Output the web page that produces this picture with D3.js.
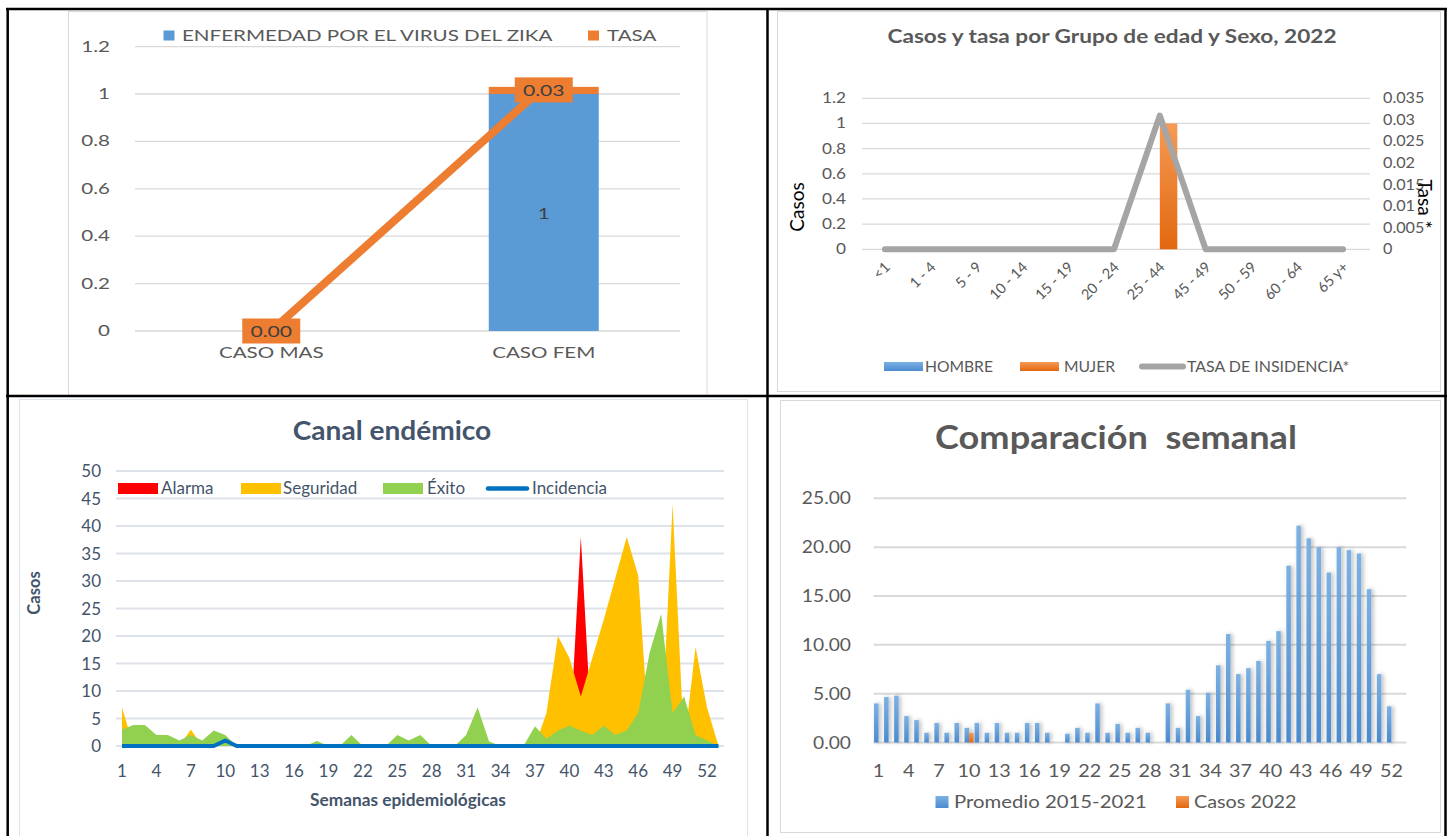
<!DOCTYPE html>
<html>
<head>
<meta charset="utf-8">
<script src="https://cdn.jsdelivr.net/npm/d3@7"></script>
<style>
  body { margin: 0; background: #fff; }
  svg { display: block; font-family: Lato, "Open Sans", sans-serif; }
</style>
</head>
<body>
<script>
// ---------- data ----------
const zikaCats = ["CASO MAS", "CASO FEM"];
const zikaCasos = [0, 1];
const zikaTasa = [0, 0.03];
const zikaTicks = [0, 0.2, 0.4, 0.6, 0.8, 1, 1.2];

const edadCats = ["<1", "1 - 4", "5 - 9", "10 - 14", "15 - 19", "20 - 24", "25 - 44", "45 - 49", "50 - 59", "60 - 64", "65 y+"];
const hombre = [0, 0, 0, 0, 0, 0, 0, 0, 0, 0, 0];
const mujer = [0, 0, 0, 0, 0, 0, 1, 0, 0, 0, 0];
const tasaEdad = [0, 0, 0, 0, 0, 0, 0.031, 0, 0, 0, 0];
const casosTicks = [0, 0.2, 0.4, 0.6, 0.8, 1, 1.2];
const tasaTicks = [0, 0.005, 0.01, 0.015, 0.02, 0.025, 0.03, 0.035];

const semanas = [1, 2, 3, 4, 5, 6, 7, 8, 9, 10, 11, 12, 13, 14, 15, 16, 17, 18, 19, 20,
  21, 22, 23, 24, 25, 26, 27, 28, 29, 30, 31, 32, 33, 34, 35, 36, 37, 38, 39, 40,
  41, 42, 43, 44, 45, 46, 47, 48, 49, 50, 51, 52, 53];
const semanaTicks = [1, 4, 7, 10, 13, 16, 19, 22, 25, 28, 31, 34, 37, 40, 43, 46, 49, 52];

const alarma = [0, 0, 0, 0, 0, 0, 0, 0, 0, 0, 0, 0, 0, 0, 0, 0, 0, 0, 0, 0,
  0, 0, 0, 0, 0, 0, 0, 0, 0, 0, 0, 0, 0, 0, 0, 0, 0, 0, 0, 0,
  38, 0, 0, 0, 0, 0, 0, 0, 0, 0, 0, 0, 0];
const seguridad = [7, 0, 0, 0, 0, 0, 3, 0, 0, 0, 0, 0, 0, 0, 0, 0, 0, 0, 0, 0,
  0, 0, 0, 0, 0, 0, 0, 0, 0, 0, 0, 0, 0, 0, 0, 0, 0, 6, 20, 16,
  9, 16, 23, 30.5, 38, 31, 0, 0, 44, 0, 18, 7, 0];
const exito = [3, 3.8, 3.8, 2, 2, 1, 2, 1, 2.8, 2, 0, 0, 0, 0, 0, 0, 0, 0.9, 0, 0,
  2, 0, 0, 0, 2, 1, 2, 0, 0, 0, 2, 7, 0.8, 0, 0, 0, 3.6, 1.3, 2.8, 3.7,
  2.8, 2, 3.7, 2, 2.8, 6, 17, 24, 6, 9, 2, 1, 0];
const incidencia = [0, 0, 0, 0, 0, 0, 0, 0, 0, 1, 0, 0, 0, 0, 0, 0, 0, 0, 0, 0,
  0, 0, 0, 0, 0, 0, 0, 0, 0, 0, 0, 0, 0, 0, 0, 0, 0, 0, 0, 0,
  0, 0, 0, 0, 0, 0, 0, 0, 0, 0, 0, 0, 0];
const canalTicks = [0, 5, 10, 15, 20, 25, 30, 35, 40, 45, 50];

const promedio = [4.0, 4.65, 4.8, 2.7, 2.3, 1.0, 2.0, 1.0, 2.0, 1.5, 2.0, 1.0, 2.0, 1.0, 1.0, 2.0, 2.0, 1.0, 0, 0.9,
  1.5, 1.0, 4.0, 1.0, 1.9, 1.0, 1.5, 1.0, 0, 4.0, 1.5, 5.4, 2.7, 5.1, 7.9, 11.1, 7.0, 7.6, 8.35, 10.4,
  11.4, 18.1, 22.2, 20.9, 20.0, 17.4, 20.0, 19.7, 19.35, 15.7, 7.0, 3.7, 0];
const casos2022 = [0, 0, 0, 0, 0, 0, 0, 0, 0, 1, 0, 0, 0, 0, 0, 0, 0, 0, 0, 0,
  0, 0, 0, 0, 0, 0, 0, 0, 0, 0, 0, 0, 0, 0, 0, 0, 0, 0, 0, 0,
  0, 0, 0, 0, 0, 0, 0, 0, 0, 0, 0, 0, 0];
const compTicks = [0, 5, 10, 15, 20, 25];

// ---------- svg ----------
const width = 1447, height = 836;
const svg = d3.select("body").append("svg")
  .attr("width", width)
  .attr("height", height);

const defs = svg.append("defs");
function vgrad(id, top, bottom) {
  const g = defs.append("linearGradient").attr("id", id)
    .attr("x1", 0).attr("y1", 0).attr("x2", 0).attr("y2", 1);
  g.append("stop").attr("offset", "0%").attr("stop-color", top);
  g.append("stop").attr("offset", "100%").attr("stop-color", bottom);
}
vgrad("gBlue", "#7DB1E3", "#4A8BCF");
vgrad("gOrange", "#F59A55", "#E2680F");
defs.append("filter").attr("id", "shadow")
  .attr("x", "-50%").attr("y", "-10%").attr("width", "250%").attr("height", "120%")
  .append("feDropShadow")
  .attr("dx", 2).attr("dy", 0).attr("stdDeviation", 2)
  .attr("flood-color", "#000").attr("flood-opacity", 0.28);

const grey = "#595959";

// text with a horizontal stretch (the source screenshot is a bit widened)
function label(g, x, y, str, o) {
  return g.append("text")
    .attr("transform", `translate(${x},${y}) scale(${o.k || 1},1)`)
    .attr("text-anchor", o.anchor || "start")
    .attr("font-size", o.size)
    .attr("font-weight", o.weight || "normal")
    .attr("fill", o.fill || grey)
    .style("white-space", "pre")
    .text(str);
}

// ================= panel 1 : zika por sexo =================
const p1 = svg.append("g");
p1.append("rect").attr("x", 68.5).attr("y", 11.5).attr("width", 638.5).attr("height", 384)
  .attr("fill", "none").attr("stroke", "#D9D9D9");

const x1 = d3.scaleBand().domain(zikaCats).range([135, 680]);
const y1 = d3.scaleLinear().domain([0, 1.2]).range([331, 46.6]);
const k1 = 1.37;

p1.selectAll(".grid").data(zikaTicks).enter().append("line")
  .attr("x1", 135).attr("x2", 680)
  .attr("y1", d => y1(d)).attr("y2", d => y1(d))
  .attr("stroke", "#D9D9D9").attr("stroke-width", 1.3);
zikaTicks.forEach(t => label(p1, 110, y1(t) + 5, t, { size: 15, k: k1, anchor: "end" }));

const bw1 = 110;
p1.selectAll(".bar").data(zikaCats).enter().append("rect")
  .attr("x", d => x1(d) + x1.bandwidth() / 2 - bw1 / 2)
  .attr("width", bw1)
  .attr("y", (d, i) => y1(zikaCasos[i]))
  .attr("height", (d, i) => y1(0) - y1(zikaCasos[i]))
  .attr("fill", "#5B9BD5");
p1.selectAll(".cap").data(zikaCats).enter().append("rect")
  .attr("x", d => x1(d) + x1.bandwidth() / 2 - bw1 / 2)
  .attr("width", bw1)
  .attr("y", (d, i) => y1(zikaCasos[i] + zikaTasa[i]))
  .attr("height", (d, i) => zikaCasos[i] > 0 ? y1(zikaCasos[i]) - y1(zikaCasos[i] + zikaTasa[i]) : 0)
  .attr("fill", "#ED7D31");

const line1 = d3.line()
  .x((d, i) => x1(zikaCats[i]) + x1.bandwidth() / 2)
  .y((d, i) => y1(zikaCasos[i] + zikaTasa[i]));
p1.append("path").datum(zikaTasa).attr("d", line1)
  .attr("fill", "none").attr("stroke", "#ED7D31").attr("stroke-width", 8);

zikaCats.forEach((c, i) => {
  const cx = x1(c) + x1.bandwidth() / 2;
  const cy = y1(zikaCasos[i] + zikaTasa[i]) + (i ? 3 : 0);
  p1.append("rect").attr("x", cx - 29).attr("y", cy - 12.5)
    .attr("width", 58).attr("height", 25).attr("fill", "#ED7D31");
  label(p1, cx, cy + 6, d3.format(".2f")(zikaTasa[i]), { size: 16, k: 1.32, anchor: "middle", fill: "#404040" });
  if (zikaCasos[i] > 0) {
    label(p1, cx, (y1(0) + y1(zikaCasos[i])) / 2 + 6, zikaCasos[i], { size: 15, k: k1, anchor: "middle", fill: "#404040" });
  }
  label(p1, cx, 358, c, { size: 15, k: k1, anchor: "middle" });
});

p1.append("rect").attr("x", 163.5).attr("y", 30.5).attr("width", 11).attr("height", 10).attr("fill", "#5B9BD5");
label(p1, 182, 40.5, "ENFERMEDAD POR EL VIRUS DEL ZIKA", { size: 15, k: k1 });
p1.append("rect").attr("x", 588).attr("y", 30.5).attr("width", 11).attr("height", 10).attr("fill", "#ED7D31");
label(p1, 607, 40.5, "TASA", { size: 15, k: k1 });

// ================= panel 2 : grupo de edad =================
const p2 = svg.append("g");
const k2 = 1.08;
p2.append("rect").attr("x", 777.5).attr("y", 11.5).attr("width", 663).attr("height", 380)
  .attr("fill", "none").attr("stroke", "#D9D9D9");
label(p2, 1112, 43, "Casos y tasa por Grupo de edad y Sexo, 2022", { size: 19.5, k: 1.16, anchor: "middle", weight: "bold" });

const x2 = d3.scaleBand().domain(edadCats).range([862, 1366]);
const yL = d3.scaleLinear().domain([0, 1.2]).range([249.3, 98.3]);
const yR = d3.scaleLinear().domain([0, 0.035]).range([249.3, 98.3]);

p2.selectAll(".grid").data(casosTicks).enter().append("line")
  .attr("x1", 862).attr("x2", 1370)
  .attr("y1", d => yL(d)).attr("y2", d => yL(d))
  .attr("stroke", "#D9D9D9").attr("stroke-width", 1.3);
casosTicks.forEach(t => label(p2, 846, yL(t) + 5, t, { size: 15, k: 1.15, anchor: "end" }));
tasaTicks.forEach(t => label(p2, 1383, yR(t) + 5, t, { size: 15, k: k2 }));

const bw2 = 17.5;
p2.selectAll(".hb").data(edadCats).enter().append("rect")
  .attr("x", d => x2(d) + x2.bandwidth() / 2 - bw2)
  .attr("width", bw2)
  .attr("y", (d, i) => yL(hombre[i]))
  .attr("height", (d, i) => yL(0) - yL(hombre[i]))
  .attr("fill", "url(#gBlue)");
p2.selectAll(".mb").data(edadCats).enter().append("rect")
  .attr("x", d => x2(d) + x2.bandwidth() / 2)
  .attr("width", bw2)
  .attr("y", (d, i) => yL(mujer[i]))
  .attr("height", (d, i) => yL(0) - yL(mujer[i]))
  .attr("fill", "url(#gOrange)");

const line2 = d3.line()
  .x((d, i) => x2(edadCats[i]) + x2.bandwidth() / 2)
  .y(d => yR(d));
p2.append("path").datum(tasaEdad).attr("d", line2)
  .attr("fill", "none").attr("stroke", "#A5A5A5").attr("stroke-width", 6)
  .attr("stroke-linejoin", "round").attr("stroke-linecap", "round");

p2.selectAll(".xlab").data(edadCats).enter().append("text")
  .attr("transform", d => `translate(${x2(d) + x2.bandwidth() / 2 + 6},${268}) rotate(-45)`)
  .attr("text-anchor", "end").attr("font-size", 14.5).attr("fill", grey)
  .text(d => d);

p2.append("text").attr("transform", "translate(804,207) rotate(-90)")
  .attr("text-anchor", "middle").attr("font-size", 19).attr("fill", "#000").text("Casos");
p2.append("text").attr("transform", "translate(1418,204) rotate(90)")
  .attr("text-anchor", "middle").attr("font-size", 19).attr("fill", "#000").text("Tasa *");

p2.append("rect").attr("x", 884).attr("y", 362).attr("width", 39).attr("height", 9).attr("fill", "url(#gBlue)");
label(p2, 925, 371.5, "HOMBRE", { size: 14.5, k: k2 });
p2.append("rect").attr("x", 1020).attr("y", 362).attr("width", 39).attr("height", 9).attr("fill", "url(#gOrange)");
label(p2, 1064, 371.5, "MUJER", { size: 14.5, k: k2 });
p2.append("line").attr("x1", 1142).attr("x2", 1183).attr("y1", 366.5).attr("y2", 366.5)
  .attr("stroke", "#A5A5A5").attr("stroke-width", 6).attr("stroke-linecap", "round");
label(p2, 1187, 371.5, "TASA DE INSIDENCIA*", { size: 14.5, k: 1.1 });

// ================= panel 3 : canal endemico =================
const p3 = svg.append("g");
const ink = "#44546A";
p3.append("rect").attr("x", 19.5).attr("y", 399.5).attr("width", 728).attr("height", 450)
  .attr("fill", "none").attr("stroke", "#DCE3EA");
label(p3, 392, 440, "Canal endémico", { size: 27, k: 1.04, anchor: "middle", weight: "bold", fill: ink });

const xC = d3.scalePoint().domain(semanas).range([122, 718.5]);
const yC = d3.scaleLinear().domain([0, 50]).range([746, 471]);

p3.selectAll(".grid").data(canalTicks).enter().append("line")
  .attr("x1", 116).attr("x2", 724)
  .attr("y1", d => yC(d)).attr("y2", d => yC(d))
  .attr("stroke", "#DDE2E8").attr("stroke-width", 1.8);
canalTicks.forEach(t => label(p3, 101, yC(t) + 6, t, { size: 17, anchor: "end", fill: ink }));

const areaC = d3.area()
  .x((d, i) => xC(semanas[i]))
  .y0(yC(0))
  .y1(d => yC(d));
p3.append("path").datum(alarma).attr("d", areaC).attr("fill", "#FF0000");
p3.append("path").datum(seguridad).attr("d", areaC).attr("fill", "#FFC000");
p3.append("path").datum(exito).attr("d", areaC).attr("fill", "#92D050");
const lineC = d3.line().x((d, i) => xC(semanas[i])).y(d => yC(d));
p3.append("path").datum(incidencia).attr("d", lineC)
  .attr("fill", "none").attr("stroke", "#0070C0").attr("stroke-width", 4)
  .attr("stroke-linejoin", "round");

semanaTicks.forEach(t => label(p3, xC(t), 777, t, { size: 17, anchor: "middle", fill: ink }));

p3.append("text").attr("transform", "translate(40,593) rotate(-90)")
  .attr("text-anchor", "middle").attr("font-size", 16.5).attr("font-weight", "bold").attr("fill", ink)
  .text("Casos");
label(p3, 408, 806, "Semanas epidemiológicas", { size: 17.3, anchor: "middle", weight: "bold", fill: ink });

const legC = [
  { name: "Alarma", color: "#FF0000", sx: 118, tx: 161 },
  { name: "Seguridad", color: "#FFC000", sx: 241, tx: 283 },
  { name: "Éxito", color: "#92D050", sx: 383, tx: 427 }
];
p3.selectAll(".legr").data(legC).enter().append("rect")
  .attr("x", d => d.sx).attr("y", 483).attr("width", 40).attr("height", 11)
  .attr("fill", d => d.color);
legC.forEach(d => label(p3, d.tx, 494, d.name, { size: 17, fill: ink }));
p3.append("line").attr("x1", 488).attr("x2", 527).attr("y1", 488.5).attr("y2", 488.5)
  .attr("stroke", "#0070C0").attr("stroke-width", 4.5).attr("stroke-linecap", "round");
label(p3, 532, 494, "Incidencia", { size: 17, fill: ink });

// ================= panel 4 : comparacion semanal =================
const p4 = svg.append("g");
const k4 = 1.1;
p4.append("rect").attr("x", 780.5).attr("y", 400.5).attr("width", 660).attr("height", 432)
  .attr("fill", "none").attr("stroke", "#D9D9D9");
label(p4, 1116, 449, "Comparación  semanal", { size: 32, k: 1.13, anchor: "middle", weight: "bold" });

const xP = d3.scaleBand().domain(semanas).range([873.5, 1406.5]);
const yP = d3.scaleLinear().domain([0, 25]).range([742.5, 498.3]);

p4.selectAll(".grid").data(compTicks).enter().append("line")
  .attr("x1", 873.5).attr("x2", 1406.5)
  .attr("y1", d => yP(d)).attr("y2", d => yP(d))
  .attr("stroke", "#D9D9D9").attr("stroke-width", 2);
compTicks.forEach(t => label(p4, 851, yP(t) + 6, d3.format(".2f")(t), { size: 17.5, k: k4, anchor: "end" }));

const bw4 = 4.5;
const bars4 = p4.append("g").attr("filter", "url(#shadow)");
bars4.selectAll(".pb").data(semanas).enter().append("rect")
  .attr("x", d => xP(d) + xP.bandwidth() / 2 - bw4)
  .attr("width", bw4)
  .attr("y", (d, i) => yP(promedio[i]))
  .attr("height", (d, i) => yP(0) - yP(promedio[i]))
  .attr("fill", "url(#gBlue)");
bars4.selectAll(".cb").data(semanas).enter().append("rect")
  .attr("x", d => xP(d) + xP.bandwidth() / 2)
  .attr("width", bw4)
  .attr("y", (d, i) => yP(casos2022[i]))
  .attr("height", (d, i) => yP(0) - yP(casos2022[i]))
  .attr("fill", "url(#gOrange)");

semanaTicks.forEach(t => label(p4, xP(t) + xP.bandwidth() / 2, 777, t, { size: 18, k: k4, anchor: "middle" }));

p4.append("rect").attr("x", 935.5).attr("y", 796).attr("width", 13).attr("height", 12).attr("fill", "url(#gBlue)");
label(p4, 954, 808, "Promedio 2015-2021", { size: 18, k: 1.13 });
p4.append("rect").attr("x", 1176).attr("y", 796).attr("width", 13).attr("height", 12).attr("fill", "url(#gOrange)");
label(p4, 1194, 808, "Casos 2022", { size: 18, k: k4 });

// ================= table borders =================
const borders = [
  [6, 9, 1447, 9],
  [6, 396, 1447, 396],
  [7.7, 8, 7.7, 836],
  [767.5, 8, 767.5, 836],
  [1445.5, 8, 1445.5, 836]
];
svg.append("g").selectAll("line").data(borders).enter().append("line")
  .attr("x1", d => d[0]).attr("y1", d => d[1]).attr("x2", d => d[2]).attr("y2", d => d[3])
  .attr("stroke", "#000").attr("stroke-width", 2.5);
</script>
</body>
</html>
